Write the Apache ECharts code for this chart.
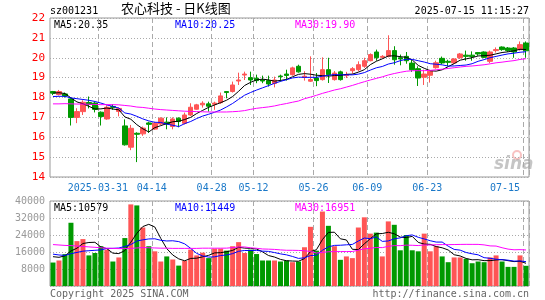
<!DOCTYPE html>
<html>
<head>
<meta charset="utf-8">
<script src="https://cdn.jsdelivr.net/npm/echarts@6/dist/echarts.min.js"></script>
<style>
  html, body { margin: 0; padding: 0; background: #fff; }
  #main { width: 545px; height: 300px; }
</style>
</head>
<body>
<div id="main"></div>
<script>
// 农心科技 日K线 (sz001231)
var dates = ['2025-03-19','2025-03-20','2025-03-21','2025-03-24','2025-03-25','2025-03-26','2025-03-27','2025-03-28','2025-03-31',
  '2025-04-01','2025-04-02','2025-04-03','2025-04-07','2025-04-08','2025-04-09','2025-04-10','2025-04-11','2025-04-14',
  '2025-04-15','2025-04-16','2025-04-17','2025-04-18','2025-04-21','2025-04-22','2025-04-23','2025-04-24','2025-04-25','2025-04-28',
  '2025-04-29','2025-04-30','2025-05-06','2025-05-07','2025-05-08','2025-05-09','2025-05-12',
  '2025-05-13','2025-05-14','2025-05-15','2025-05-16','2025-05-19','2025-05-20','2025-05-21','2025-05-22','2025-05-23','2025-05-26',
  '2025-05-27','2025-05-28','2025-05-29','2025-05-30','2025-06-03','2025-06-04','2025-06-05','2025-06-06','2025-06-09',
  '2025-06-10','2025-06-11','2025-06-12','2025-06-13','2025-06-16','2025-06-17','2025-06-18','2025-06-19','2025-06-20','2025-06-23',
  '2025-06-24','2025-06-25','2025-06-26','2025-06-27','2025-06-30','2025-07-01','2025-07-02','2025-07-03','2025-07-04',
  '2025-07-07','2025-07-08','2025-07-09','2025-07-10','2025-07-11','2025-07-14','2025-07-15'];

var opens = [18.30,18.15,18.18,17.93,17.00,17.29,17.75,17.72,17.26,16.92,
  17.55,17.30,16.57,15.50,16.20,16.17,16.72,16.41,16.67,16.76,
  16.54,16.96,16.70,17.12,17.41,17.63,17.68,17.66,17.74,18.30,
  18.30,18.83,19.13,19.00,18.97,18.88,18.85,18.71,19.08,19.18,
  19.15,19.57,19.02,18.82,18.98,18.90,19.40,18.90,19.29,19.10,
  19.35,19.40,19.57,19.85,20.29,20.02,20.07,20.36,20.00,20.07,
  19.73,19.45,19.02,19.12,19.50,19.97,19.82,19.74,20.00,20.13,
  20.13,20.26,20.29,19.82,20.36,20.54,20.49,20.49,20.41,20.74];
var closes = [18.22,18.30,18.08,17.00,17.29,17.76,17.65,17.40,17.04,17.51,
  17.50,17.45,15.62,16.45,16.15,16.46,16.65,16.70,16.96,16.67,
  16.92,16.79,17.12,17.51,17.63,17.71,17.56,17.72,18.08,18.25,
  18.63,18.88,19.18,18.88,18.85,18.83,18.68,18.88,19.05,19.11,
  19.49,19.29,19.07,18.90,18.85,19.40,19.15,19.23,18.90,19.15,
  19.45,19.65,19.85,20.16,20.00,20.07,20.36,19.90,19.94,19.85,
  19.40,18.98,19.18,19.32,19.75,19.74,19.77,19.94,20.19,20.07,
  20.06,20.19,20.02,20.29,20.41,20.41,20.36,20.29,20.66,20.35];
var lows = [18.12,18.10,18.00,16.59,16.71,17.12,17.45,17.25,16.59,16.88,
  17.38,17.05,15.58,15.35,14.75,16.07,16.22,16.37,16.62,16.40,
  16.40,16.50,16.64,17.07,17.38,17.49,17.29,17.38,17.68,17.96,
  18.25,18.63,18.88,18.63,18.72,18.72,18.55,18.51,18.80,18.85,
  19.10,19.25,18.85,18.78,18.57,18.85,18.73,18.85,18.85,18.98,
  19.20,19.32,19.49,19.82,19.85,19.95,20.02,19.65,19.62,19.70,
  19.29,18.58,18.63,18.75,19.45,19.67,19.57,19.70,19.94,19.85,
  19.85,20.10,19.98,19.73,20.26,20.35,20.30,20.00,20.36,20.00];
var highs = [18.33,18.38,18.25,18.00,17.46,17.86,18.05,17.80,17.30,17.60,
  17.66,17.50,16.90,16.62,16.25,16.54,16.78,16.78,17.00,17.00,
  17.00,17.00,17.24,17.71,17.68,17.81,17.79,17.79,18.25,18.32,
  18.80,19.25,19.30,19.30,19.15,19.10,19.10,19.05,19.15,19.40,
  19.55,19.65,19.32,20.07,19.23,20.02,20.00,19.33,19.35,19.29,
  19.53,19.82,20.00,20.22,20.41,20.13,21.13,20.58,20.16,20.29,
  19.90,19.57,19.40,19.40,19.85,20.06,19.90,19.98,20.24,20.36,
  20.32,20.29,20.32,20.36,20.52,20.57,20.54,20.54,20.82,20.82];
var volumes = [11040,12000,15000,29760,21120,22080,14400,15520,18720,17120,
  11520,13440,22560,38400,37920,27520,18720,16320,11520,13920,
  12480,9600,11840,17120,14400,15680,13120,17600,17600,16640,
  18720,20640,15520,17120,15040,12000,12000,12000,11520,12000,
  11200,11520,18240,27840,16640,35040,28320,18720,12320,13920,
  13120,27520,32320,24640,25120,13920,30400,28800,16800,24000,
  16800,16320,24640,16320,18720,13920,11200,13440,13440,12800,
  10720,11520,11200,13440,14400,11520,9000,9000,14400,9500];

// MA values before enough bars are on screen
var ma5Head = [18.22,18.24,18.20,17.98];
var ma10Head = [18.05,18.06,18.06,17.98,17.94,17.90,17.86,17.80,17.72];
var ma30Head = [17.68,17.68,17.69,17.68,17.67,17.67,17.66,17.65,17.64,17.64,
  17.64,17.63,17.60,17.57,17.52,17.50,17.46,17.42,17.39,17.37,
  17.35,17.33,17.31,17.30,17.29,17.28,17.27,17.27,17.27];
var vma5Head = [13800,13500,14200,16500];
var vma10Head = [15000,14600,14400,15200,15800,16400,16600,16800,17000];
var vma30Head = [19500,19300,19100,19000,18800,18600,18400,18200,18000,17800,
  17700,17600,17600,17700,17900,18100,18000,17900,17800,17800,
  17700,17700,17700,17700,17700,17800,17800,17800,17800];

var priceTicks = [14, 22, 1];
var volTicks = [0, 40000, 8000];
var markIdx = [8, 17, 27, 34, 44, 53, 63, 79];

var RED = '#ff5555';
var GREEN = '#009900';
var MONO = 'DejaVu Sans Mono';

function calcMA(n, src, head, dp) {
  var out = [];
  for (var i = 0; i < src.length; i++) {
    if (i < n - 1) { out.push(head[i]); continue; }
    var s = 0;
    for (var j = i - n + 1; j <= i; j++) s += src[j];
    out.push(+(s / n).toFixed(dp));
  }
  return out;
}

function setOption(chart) {
  var kdata = [];
  var vdata = [];
  for (var i = 0; i < dates.length; i++) {
    kdata.push([opens[i], closes[i], lows[i], highs[i]]);
    vdata.push({
      value: volumes[i],
      itemStyle: { color: closes[i] >= opens[i] ? RED : GREEN }
    });
  }
  var isMark = function (idx) { return markIdx.indexOf(idx) > -1; };
  var vline = { show: true, interval: isMark, lineStyle: { color: '#aaa', type: [5, 3], width: 1 } };
  var hline = { show: true, lineStyle: { color: '#aaa', type: [1, 2], width: 1 } };
  var line = function (name, data, color, xi, yi) {
    return {
      name: name, type: 'line', data: data, xAxisIndex: xi, yAxisIndex: yi,
      symbol: 'none', silent: true, lineStyle: { color: color, width: 1 }, z: 5
    };
  };
  var txt = function (left, top, text, color, font) {
    return { type: 'text', left: left, top: top, silent: true,
      style: { text: text, fill: color, font: font || ('10px ' + MONO) } };
  };

  var option = {
    animation: false,
    grid: [
      { left: 50, top: 18, width: 479, height: 159, show: true, borderColor: '#999', borderWidth: 1 },
      { left: 50, top: 201, width: 479, height: 85, show: true, borderColor: '#999', borderWidth: 1 }
    ],
    xAxis: [{
      type: 'category', gridIndex: 0, data: dates, boundaryGap: true,
      axisLine: { show: false }, axisTick: { show: false },
      splitLine: vline,
      axisLabel: {
        interval: isMark, margin: 6, color: '#1a78c8', fontFamily: MONO, fontSize: 10,
        padding: [0, 6, 0, 0], alignMaxLabel: 'right',
        formatter: function (v, idx) { return idx === 8 ? v : v.slice(5); }
      }
    }, {
      type: 'category', gridIndex: 1, data: dates, boundaryGap: true,
      axisLine: { show: false }, axisTick: { show: false }, axisLabel: { show: false },
      splitLine: vline
    }],
    yAxis: [{
      type: 'value', gridIndex: 0, min: priceTicks[0], max: priceTicks[1], interval: priceTicks[2],
      axisLine: { show: false }, axisTick: { show: false }, splitLine: hline,
      axisLabel: { color: '#ff0000', fontFamily: MONO, fontSize: 11, margin: 5 }
    }, {
      type: 'value', gridIndex: 1, min: volTicks[0], max: volTicks[1], interval: volTicks[2],
      axisLine: { show: false }, axisTick: { show: false }, splitLine: hline,
      axisLabel: {
        color: '#999', fontFamily: MONO, fontSize: 10, margin: 5,
        formatter: function (v) { return v === 0 ? '' : v; }
      }
    }],
    series: [{
      type: 'candlestick', data: kdata, barWidth: 5, z: 4,
      itemStyle: { color: RED, color0: GREEN, borderColor: RED, borderColor0: GREEN, borderWidth: 1 }
    },
      line('MA5', calcMA(5, closes, ma5Head, 3), '#000000', 0, 0),
      line('MA10', calcMA(10, closes, ma10Head, 3), '#0000ff', 0, 0),
      line('MA30', calcMA(30, closes, ma30Head, 3), '#ff00ff', 0, 0),
    {
      type: 'bar', data: vdata, xAxisIndex: 1, yAxisIndex: 1, barWidth: 5, z: 3
    },
      line('VMA5', calcMA(5, volumes, vma5Head, 0), '#000000', 1, 1),
      line('VMA10', calcMA(10, volumes, vma10Head, 0), '#0000ff', 1, 1),
      line('VMA30', calcMA(30, volumes, vma30Head, 0), '#ff00ff', 1, 1)
    ],
    graphic: [
      txt(50, 6, 'sz001231', '#000'),
      { type: 'text', left: 121, top: 2, silent: true,
        style: { text: '农心科技 - 日K线图', fill: '#000', font: '13px "Noto Sans CJK SC"' } },
      { type: 'text', right: 16, top: 6, silent: true,
        style: { text: '2025-07-15 11:15:27', fill: '#000', font: '10px ' + MONO } },
      txt(54, 20, 'MA5:20.35', '#000'),
      txt(175, 20, 'MA10:20.25', '#0000ff'),
      txt(295, 20, 'MA30:19.90', '#ff00ff'),
      txt(54, 203, 'MA5:10579', '#000'),
      txt(175, 203, 'MA10:11449', '#0000ff'),
      txt(295, 203, 'MA30:16951', '#ff00ff'),
      txt(50, 289, 'Copyright 2025 SINA.COM', '#666'),
      { type: 'text', right: 16, top: 289, silent: true,
        style: { text: 'http://finance.sina.com.cn', fill: '#666', font: '10px ' + MONO } },
      // sina 水印
      { type: 'circle', shape: { cx: 517, cy: 155, r: 4 }, silent: true,
        style: { fill: 'none', stroke: 'rgba(240,120,120,0.45)', lineWidth: 2 } },
      { type: 'text', left: 494, top: 156, silent: true,
        style: { text: 'sina', fill: 'rgba(150,150,150,0.55)', font: 'italic bold 17px "DejaVu Sans"' } }
    ]
  };
  chart.setOption(option);
}

var chart = echarts.init(document.getElementById('main'), null, { renderer: 'canvas' });
setOption(chart);
</script>
</body>
</html>
